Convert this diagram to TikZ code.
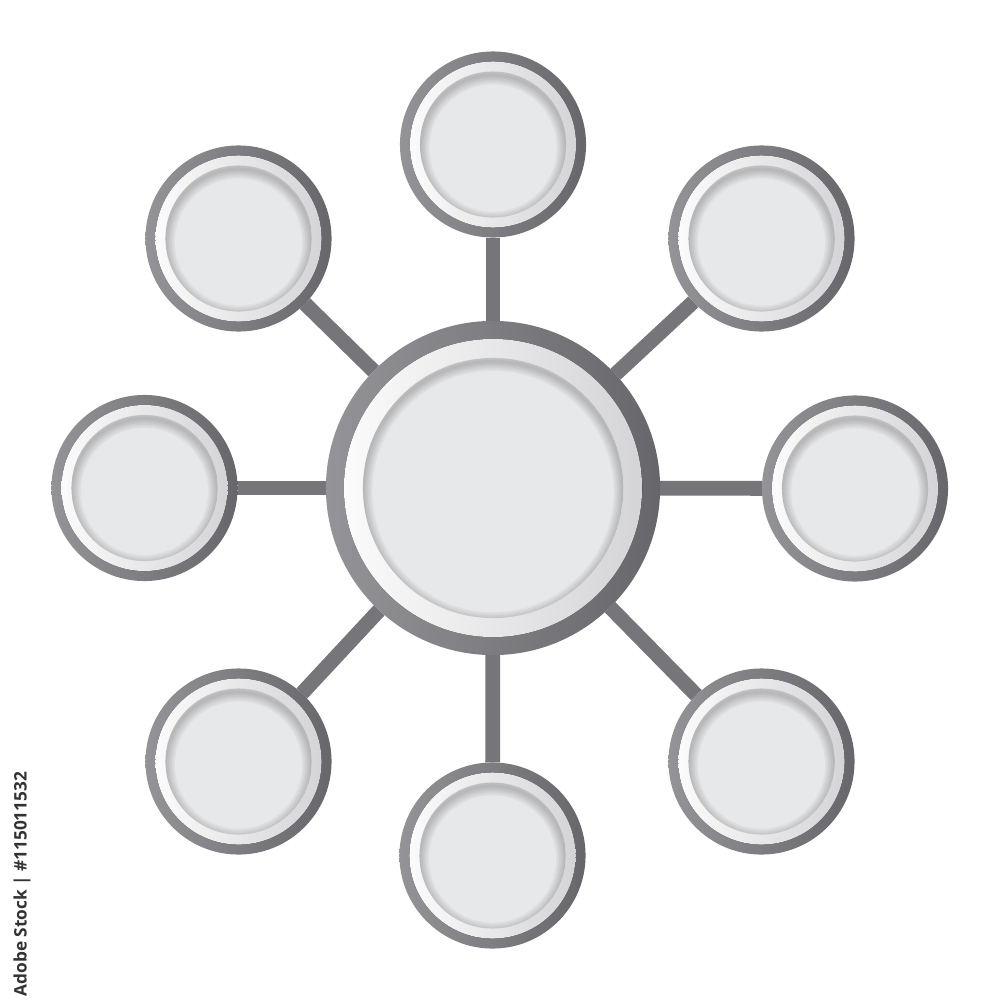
\documentclass[tikz,border=0pt]{standalone}
\usepackage{fontspec}
\newfontfamily\stockfont{Open Sans}
\usetikzlibrary{backgrounds}
\definecolor{ringlight}{RGB}{148,148,152}
\definecolor{ringdark}{RGB}{102,102,107}
\definecolor{bandlight}{RGB}{253,253,253}
\definecolor{banddark}{RGB}{210,210,213}
\definecolor{diskgray}{RGB}{231,232,234}
\definecolor{spokegray}{RGB}{118,118,122}
\definecolor{markgray}{RGB}{50,50,53}
% white band and shaded face inside a ring node
\newcommand{\ringlayers}[2]{%
  \fill[left color=bandlight,right color=banddark] (path picture bounding box.center) circle (#1);
  \begin{scope}
    \clip (path picture bounding box.center) circle (#2);
    \fill[diskgray] (path picture bounding box.center) circle (#2);
    \foreach \w in {1,...,6}
      \draw[black,opacity=0.035,line width=\w*0.9pt] ([yshift=-1pt]path picture bounding box.center) circle (#2);
  \end{scope}}
\tikzstyle{ringnode} = [circle,inner sep=0pt,outer sep=0pt,left color=ringlight,right color=ringdark]
\tikzstyle{hubnode} = [ringnode,minimum size=3.34cm,path picture={\ringlayers{1.49cm}{1.30cm}}]
\tikzstyle{leafnode} = [ringnode,minimum size=1.86cm,path picture={\ringlayers{0.83cm}{0.73cm}}]
\tikzstyle{spoke} = [spokegray,line width=4.2pt]

\begin{document}
\begin{tikzpicture}[x=0.01cm,y=-0.01cm]
	\useasboundingbox (0,0) rectangle (1000,1000);
	
	\node[hubnode] (hub) at (493,488) {};
	
	\node[leafnode] (top) at (493,144.5) {};
	\node[leafnode] (upright) at (761.5,238.5) {};
	\node[leafnode] (right) at (855,488.5) {};
	\node[leafnode] (downright) at (761.5,761.5) {};
	\node[leafnode] (bottom) at (492.5,855.5) {};
	\node[leafnode] (downleft) at (238.5,761.5) {};
	\node[leafnode] (left) at (144.5,488) {};
	\node[leafnode] (upleft) at (238.5,238.5) {};
	
	\begin{scope}[on background layer]
		\fill[white] (0,0) rectangle (1000,1000);
		\foreach \leaf in {top,upright,right,downright,bottom,downleft,left,upleft}
			\draw[spoke] (hub) -- (\leaf);
	\end{scope}
	
	\node[rotate=90,text=markgray,inner sep=0pt,font=\stockfont\bfseries\fontsize{4.9}{6}\selectfont] (stockmark) at (22,884) {Adobe Stock | \#115011532};
\end{tikzpicture}
\end{document}
